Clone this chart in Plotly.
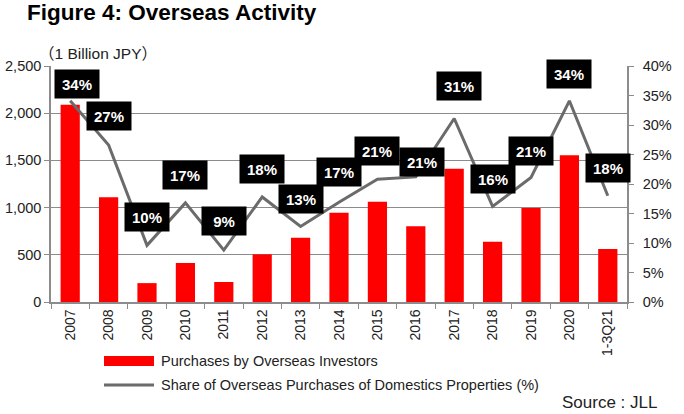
import plotly.graph_objects as go

categories = ["2007", "2008", "2009", "2010", "2011", "2012", "2013", "2014",
              "2015", "2016", "2017", "2018", "2019", "2020", "1-3Q21"]
purchases = [2090, 1110, 200, 413, 212, 505, 681, 946,
             1063, 802, 1412, 639, 996, 1554, 561]
share_pct = [34.1, 26.6, 9.6, 16.8, 8.8, 17.8, 12.8, 16.9,
             20.8, 21.2, 31.1, 16.2, 21.1, 34.1, 18.0]
left_ticks = [0, 500, 1000, 1500, 2000, 2500]
right_ticks = [0, 5, 10, 15, 20, 25, 30, 35, 40]

# label box offsets (pixels) relative to each line point
label_dx = [7, 0, 0, 0, 0, 0, 0, 0, 0, 6, 5, 0, 0, 0, 0]
label_dy = [17, 29, 28, 28, 29, 28, 27, 30, 28, 15, 33, 27, 27, 27, 28]

W, H = 684, 414
ML, MR, MT, MB = 51, 57, 66, 112
PW, PH = W - ML - MR, H - MT - MB


def px(x):
    return (x - ML) / PW


def py(y):
    return (H - MB - y) / PH


FONT = "Liberation Sans, Arial, Noto Sans CJK JP, sans-serif"
CJK = "Noto Sans CJK JP"
GRAY = "#8c8c8c"
LINE_GRAY = "#6b6b6b"

fig = go.Figure()
fig.add_trace(go.Bar(x=categories, y=purchases, marker=dict(color="#ff0000", line=dict(width=0)),
                     yaxis="y", showlegend=False, width=0.5))
fig.add_trace(go.Scatter(x=categories, y=[v / 100 for v in share_pct], mode="lines",
                         line=dict(color=LINE_GRAY, width=3), yaxis="y2", showlegend=False))

annotations = []
for i, v in enumerate(share_pct):
    annotations.append(dict(x=i, y=v / 100, xref="x", yref="y2", text=f"<b>{v:.0f}%</b>",
                            showarrow=False, xshift=label_dx[i], yshift=label_dy[i],
                            bgcolor="black", font=dict(color="white", size=15, family=FONT),
                            width=42, height=26, borderpad=1))

unit_text = (f'<span style="font-family:{CJK}">（</span>1 Billion JPY'
             f'<span style="font-family:{CJK}">）</span>')

annotations += [
    dict(x=px(25), y=py(13), xref="paper", yref="paper", xanchor="left", yanchor="middle",
         text="<b>Figure 4: Overseas Activity</b>", showarrow=False,
         font=dict(size=22.5, color="black", family=FONT)),
    dict(x=px(37), y=py(52), xref="paper", yref="paper", xanchor="left", yanchor="middle",
         text=unit_text, showarrow=False,
         font=dict(size=15.5, color="#222", family=FONT)),
    dict(x=px(159), y=py(361), xref="paper", yref="paper", xanchor="left", yanchor="middle",
         text="Purchases by Overseas Investors", showarrow=False,
         font=dict(size=14.5, color="#222", family=FONT)),
    dict(x=px(159), y=py(385), xref="paper", yref="paper", xanchor="left", yanchor="middle",
         text="Share of Overseas Purchases of Domestics Properties (%)", showarrow=False,
         font=dict(size=14.5, color="#222", family=FONT)),
    dict(x=px(659), y=py(402), xref="paper", yref="paper", xanchor="right", yanchor="middle",
         text="Source : JLL", showarrow=False, font=dict(size=17, color="#222", family=FONT)),
]

shapes = [
    dict(type="rect", xref="paper", yref="paper", x0=px(104), x1=px(154), y0=py(366), y1=py(356),
         fillcolor="#ff0000", line=dict(width=0)),
    dict(type="line", xref="paper", yref="paper", x0=px(104), x1=px(154), y0=py(385), y1=py(385),
         line=dict(color=LINE_GRAY, width=3)),
]

fig.update_layout(
    width=W, height=H, margin=dict(l=ML, r=MR, t=MT, b=MB, autoexpand=False),
    paper_bgcolor="white", plot_bgcolor="white",
    font=dict(family=FONT, color="#222", size=14),
    bargap=0.5,
    xaxis=dict(type="category", showline=True, linecolor=GRAY, linewidth=1.5, ticks="outside",
               tickson="boundaries", ticklen=5, tickcolor=GRAY, tickangle=-90,
               tickfont=dict(size=14), showgrid=False, range=[-0.5, 14.5]),
    yaxis=dict(range=[0, 2500], tickvals=left_ticks, tickformat=",", showline=True,
               linecolor=GRAY, linewidth=1.5, ticks="outside", ticklen=5, tickcolor=GRAY,
               showgrid=True, gridcolor=GRAY, gridwidth=1, zeroline=False,
               tickfont=dict(size=14.5)),
    yaxis2=dict(range=[0, 0.4], tickvals=[t / 100 for t in right_ticks], tickformat=".0%",
                overlaying="y", side="right", showline=True, linecolor=GRAY, linewidth=1.5,
                ticks="outside", ticklen=5, tickcolor=GRAY, showgrid=False, zeroline=False,
                tickfont=dict(size=14.5), ticklabelstandoff=6),
    annotations=annotations, shapes=shapes, showlegend=False,
)

fig.write_html("out.html", config={"displayModeBar": False},
               post_script="document.body.style.margin='0';document.body.style.overflow='hidden';")
